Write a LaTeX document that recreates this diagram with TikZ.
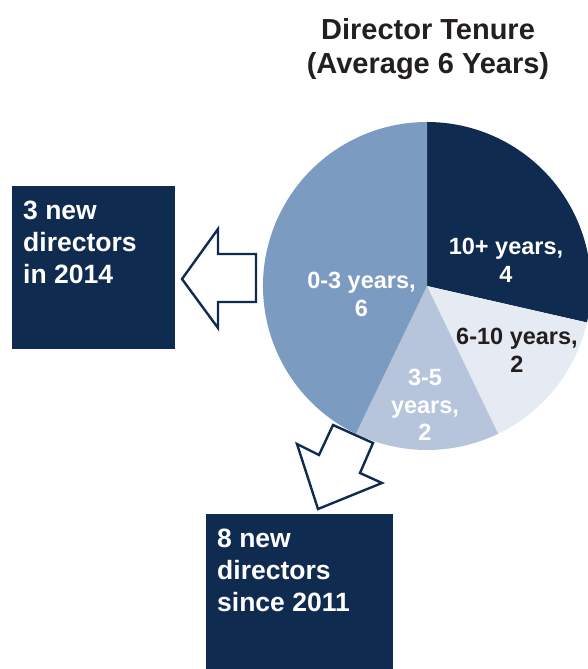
\documentclass[tikz,border=0pt]{standalone}
\usepackage{fontspec}
\setmainfont{Liberation Sans}
\definecolor{navy}{HTML}{0F2B50}
\definecolor{midblue}{HTML}{7C9BC1}
\definecolor{lightblue}{HTML}{B6C5DC}
\definecolor{paleblue}{HTML}{E6EBF3}
\definecolor{titlegray}{HTML}{231F20}
\tikzset{
  box/.style={fill=navy, draw=none, inner sep=0pt},
  boxtext/.style={text=white, font=\bfseries\fontsize{26.5}{32}\selectfont, align=left, inner sep=0pt, anchor=north west},
  pielabel/.style={font=\bfseries\fontsize{23.5}{27.5}\selectfont, align=center, inner sep=0pt, anchor=north},
  outlinearrow/.style={draw=navy, line width=2.4pt, fill=white, line join=miter},
}
\begin{document}
\begin{tikzpicture}[x=1pt,y=-1pt]
\useasboundingbox (0,0) rectangle (588,669);
\clip (0,0) rectangle (588,669);
% pie
\coordinate (c) at (427,286);
\fill[navy] (c) -- ++(-90:164) arc[start angle=-90, end angle=12.857, radius=164] -- cycle;
\fill[paleblue] (c) -- ++(12.857:164) arc[start angle=12.857, end angle=64.286, radius=164] -- cycle;
\fill[lightblue] (c) -- ++(64.286:164) arc[start angle=64.286, end angle=115.714, radius=164] -- cycle;
\fill[midblue] (c) -- ++(115.714:164) arc[start angle=115.714, end angle=270, radius=164] -- cycle;
% title
\node[font=\bfseries\fontsize{29}{33.5}\selectfont, text=titlegray, align=center, inner sep=0pt, anchor=north] (title) at (428,18.5) {Director Tenure\\(Average 6 Years)};
% pie labels
\node[pielabel, text=white] (l10) at (506,238) {10+ years,\\4};
\node[pielabel, text=titlegray] (l6) at (517,328) {6-10 years,\\2};
\node[pielabel, text=white] (l0) at (361.5,272) {0-3 years,\\6};
\node[pielabel, text=white] (l3) at (425,369) {3-5\\years,\\2};
% boxes
\node[box, minimum width=163, minimum height=163] (b1) at (93.5,267.5) {};
\node[boxtext] (t1) at (23,200.7) {3 new\\directors\\in 2014};
\node[box, minimum width=187, minimum height=166] (b2) at (299.5,597) {};
\node[boxtext] (t2) at (217,529) {8 new\\directors\\since 2011};
% arrows
\draw[outlinearrow] (256,254) -- (218,254) -- (218,229) -- (182,279) -- (218,328) -- (218,302) -- (256,302) -- cycle;
\draw[outlinearrow] (333,425) -- (373,443) -- (360,473) -- (382,483) -- (318,509) -- (297,444) -- (319,455) -- cycle;
\end{tikzpicture}
\end{document}
